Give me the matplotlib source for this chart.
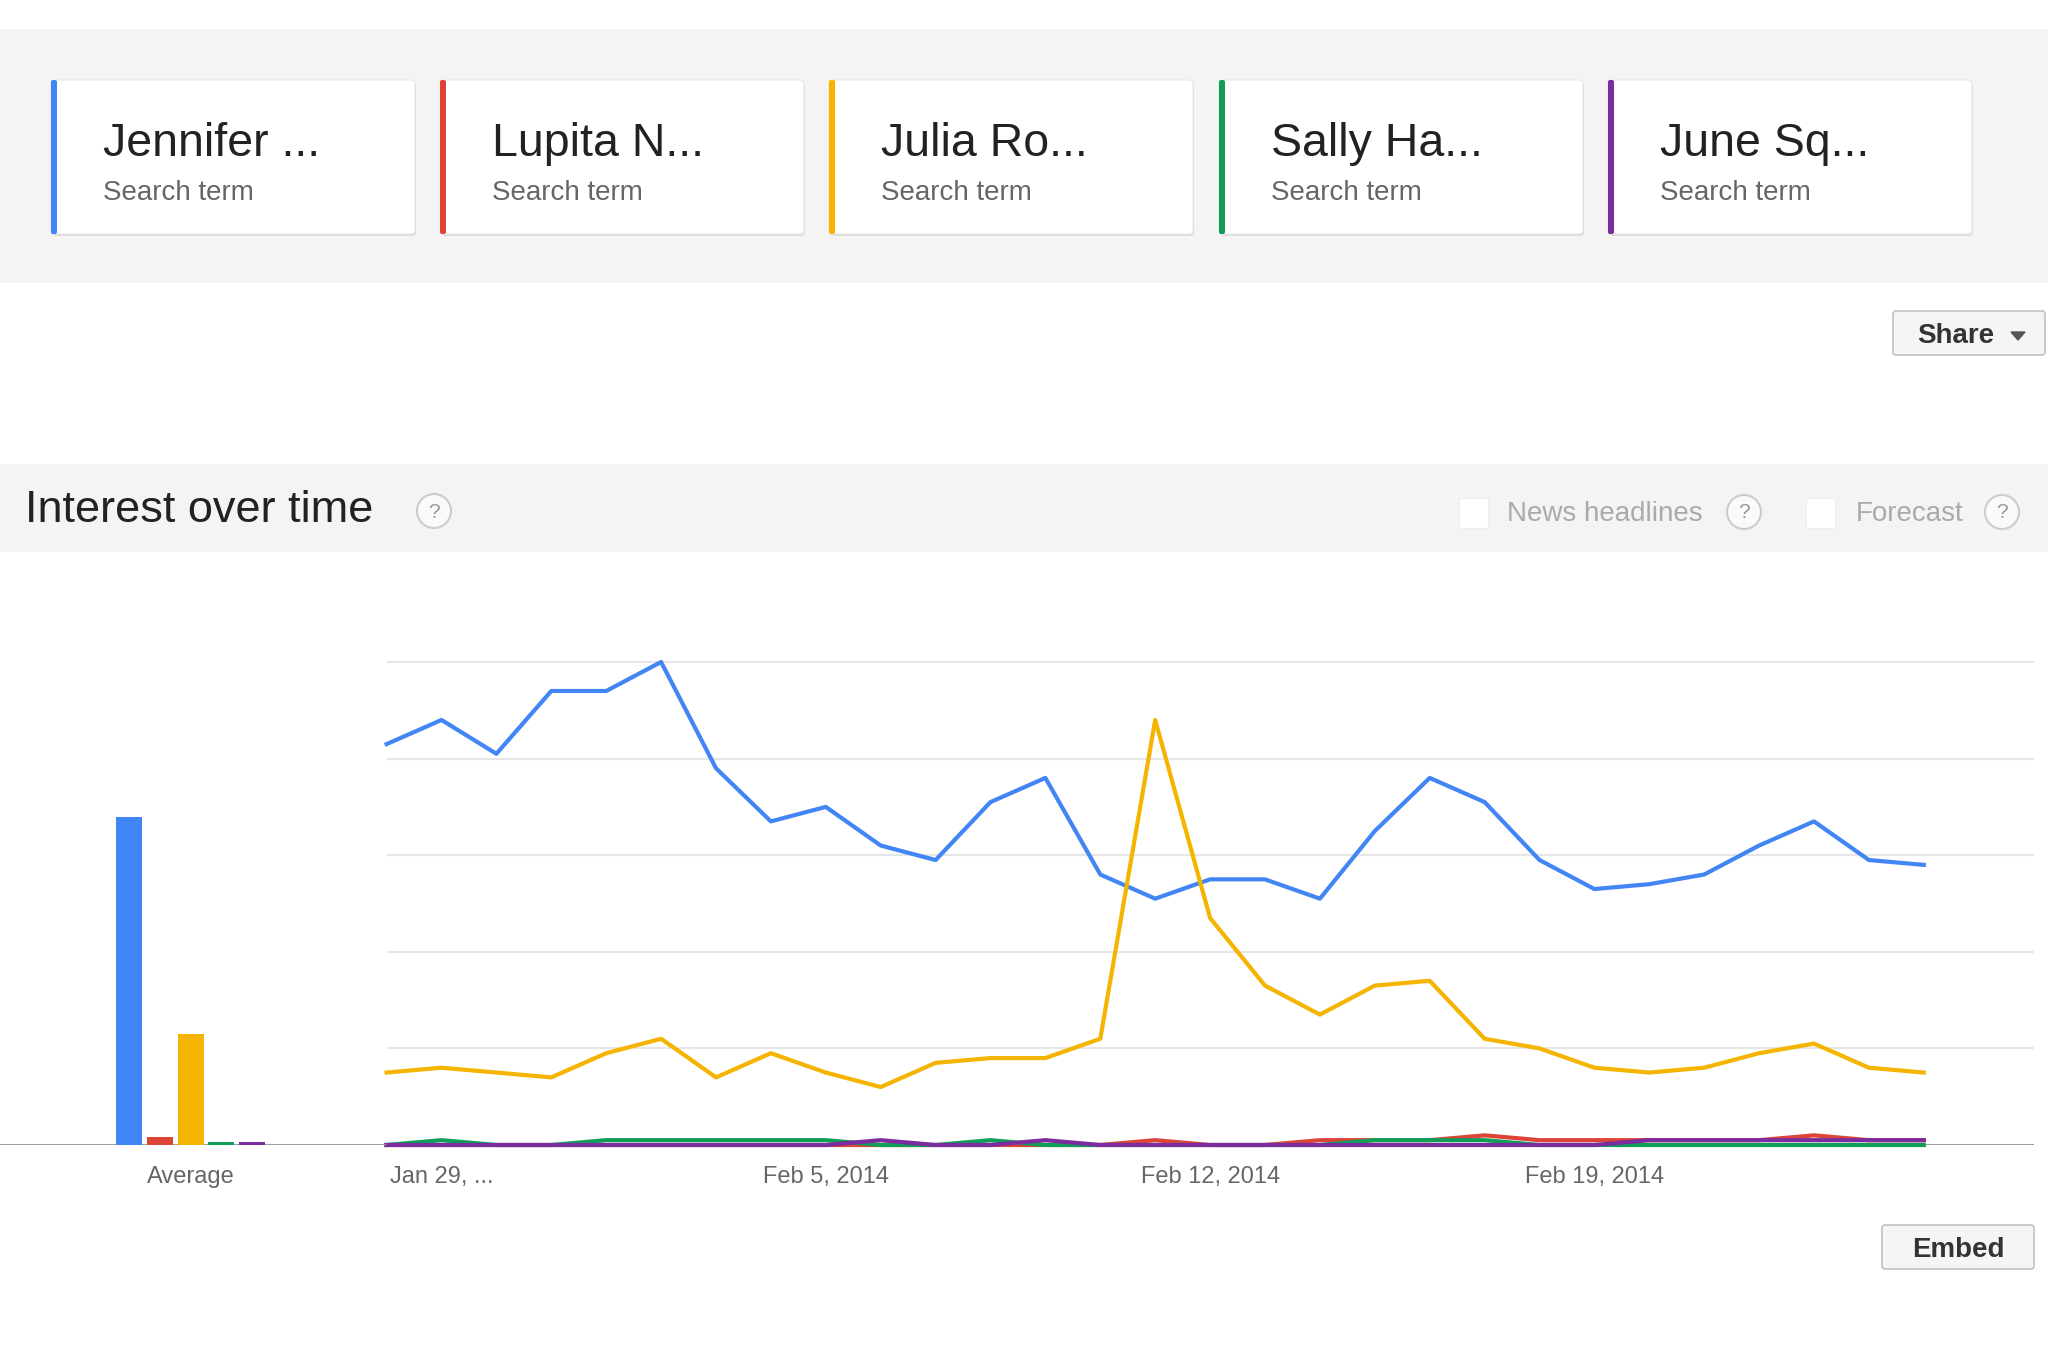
import pandas as pd
import matplotlib
matplotlib.use('Agg')
import matplotlib.pyplot as plt
from matplotlib.patches import Rectangle, FancyBboxPatch, Circle, Polygon

plt.rcParams['font.family'] = ['Liberation Sans', 'DejaVu Sans']

# search terms and colours
terms = ['Jennifer ...', 'Lupita N...', 'Julia Ro...', 'Sally Ha...', 'June Sq...']
colors = ['#4285f4', '#db4437', '#f4b400', '#0f9d58', '#7b2c9e']

dates = pd.date_range('2014-01-28', '2014-02-25', freq='D')

jennifer = [83, 88, 81, 94, 94, 100, 78, 67, 70, 62, 59, 71, 76, 56, 51,
            55, 55, 51, 65, 76, 71, 59, 53, 54, 56, 62, 67, 59, 58]
lupita = [0, 0, 0, 0, 0, 0, 0, 0, 0, 0, 0, 0, 0, 0, 1,
          0, 0, 1, 1, 1, 2, 1, 1, 1, 1, 1, 2, 1, 1]
julia = [15, 16, 15, 14, 19, 22, 14, 19, 15, 12, 17, 18, 18, 22, 88,
         47, 33, 27, 33, 34, 22, 20, 16, 15, 16, 19, 21, 16, 15]
sally = [0, 1, 0, 0, 1, 1, 1, 1, 1, 0, 0, 1, 0, 0, 0,
         0, 0, 0, 1, 1, 1, 0, 0, 0, 0, 0, 0, 0, 0]
june = [0, 0, 0, 0, 0, 0, 0, 0, 0, 1, 0, 0, 1, 0, 0,
        0, 0, 0, 0, 0, 0, 0, 0, 1, 1, 1, 1, 1, 1]
series = [jennifer, lupita, julia, sally, june]

averages = [68, 1.6, 23, 0.6, 0.6]

tick_dates = ['2014-01-29', '2014-02-05', '2014-02-12', '2014-02-19']
tick_labels = ['Jan 29, ...', 'Feb 5, 2014', 'Feb 12, 2014', 'Feb 19, 2014']

W, H = 2048, 1350
fig = plt.figure(figsize=(W / 100, H / 100), dpi=100, facecolor='white')


def frac(x0, y0, x1, y1):
    return [x0 / W, 1 - y1 / H, (x1 - x0) / W, (y1 - y0) / H]


# page furniture drawn in pixel coordinates
ui = fig.add_axes([0, 0, 1, 1])
ui.set_xlim(0, W)
ui.set_ylim(H, 0)
ui.axis('off')

ui.add_patch(Rectangle((0, 29), W, 254, color='#f4f4f4', lw=0))
card_x = [51, 440, 829, 1219, 1608]
for x, term, c in zip(card_x, terms, colors):
    ui.add_patch(FancyBboxPatch((x + 1, 82), 364, 154, boxstyle='round,pad=0,rounding_size=4',
                                fc='#dcdcdc', ec='none'))
    ui.add_patch(FancyBboxPatch((x, 80), 364, 154, boxstyle='round,pad=0,rounding_size=4',
                                fc='white', ec='#e8e8e8', lw=0.8))
    ui.add_patch(FancyBboxPatch((x, 80), 6, 154, boxstyle='round,pad=0,rounding_size=2',
                                fc=c, ec='none'))
    ui.text(x + 52, 144, term, fontsize=33.5, color='#222222', va='center', ha='left')
    ui.text(x + 52, 193, 'Search term', fontsize=20, color='#666666', va='center', ha='left')


def button(x, y, w, h, label, tx):
    ui.add_patch(FancyBboxPatch((x, y), w, h, boxstyle='round,pad=0,rounding_size=3',
                                fc='#f5f5f5', ec='#c6c6c6', lw=1.3))
    ui.text(tx, y + h / 2 + 3, label, fontsize=20, fontweight='bold', color='#333333',
            ha='center', va='center')


button(1893, 311, 152, 44, 'Share', 1956)
ui.add_patch(Polygon([(2011, 332), (2025, 332), (2018, 340)], color='#555555'))
button(1882, 1225, 152, 44, 'Embed', 1958)


def qmark(cx, cy):
    ui.add_patch(Circle((cx, cy), 17, fc='#fafafa', ec='#cccccc', lw=1.5))
    ui.text(cx, cy + 1, '?', fontsize=15, color='#9a9a9a', ha='center', va='center')


ui.add_patch(Rectangle((0, 464), W, 88, color='#f4f4f4', lw=0))
ui.text(25, 511, 'Interest over time', fontsize=32.5, color='#222222', va='center')
qmark(434, 511)
ui.add_patch(Rectangle((1459, 498), 29, 30, fc='white', ec='#eeeeee', lw=0.8))
ui.text(1507, 514, 'News headlines', fontsize=20, color='#aaaaaa', va='center')
qmark(1744, 512)
ui.add_patch(Rectangle((1806, 498), 29, 30, fc='white', ec='#eeeeee', lw=0.8))
ui.text(1856, 514, 'Forecast', fontsize=20, color='#aaaaaa', va='center')
qmark(2002, 512)

# line chart
ax = fig.add_axes(frac(386.6, 613.7, 2033.6, 1145))
ax.set_facecolor('none')
for vals, c in zip(series, colors):
    ax.plot(dates, vals, color=c, lw=3, clip_on=False, zorder=3)
ax.axhline(0, color='#929292', lw=2, zorder=2)
ax.set_ylim(0, 110)
ax.set_xlim(dates[0], dates[0] + pd.Timedelta(days=30))
ax.set_yticks([20, 40, 60, 80, 100])
ax.yaxis.grid(True, color='#e6e6e6', lw=1.5)
ax.set_axisbelow(True)
ax.tick_params(axis='y', length=0, labelleft=False)
ax.set_xticks(pd.to_datetime(tick_dates))
ax.set_xticklabels(tick_labels)
ax.tick_params(axis='x', length=0, pad=15, labelsize=17, labelcolor='#666666')
for s in ax.spines.values():
    s.set_visible(False)

# average bars
bx = fig.add_axes(frac(0, 613.7, 386.6, 1145))
bx.set_facecolor('none')
bx.bar(range(len(averages)), averages, width=0.85, color=colors, zorder=3)
bx.axhline(0, color='#929292', lw=2, zorder=2)
bx.set_xlim(-4.21, 8.38)
bx.set_ylim(0, 110)
bx.set_yticks([])
bx.set_xticks([2])
bx.set_xticklabels(['Average'])
bx.tick_params(axis='x', length=0, pad=15, labelsize=17, labelcolor='#666666')
for s in bx.spines.values():
    s.set_visible(False)

fig.savefig('out.png', dpi=100)
